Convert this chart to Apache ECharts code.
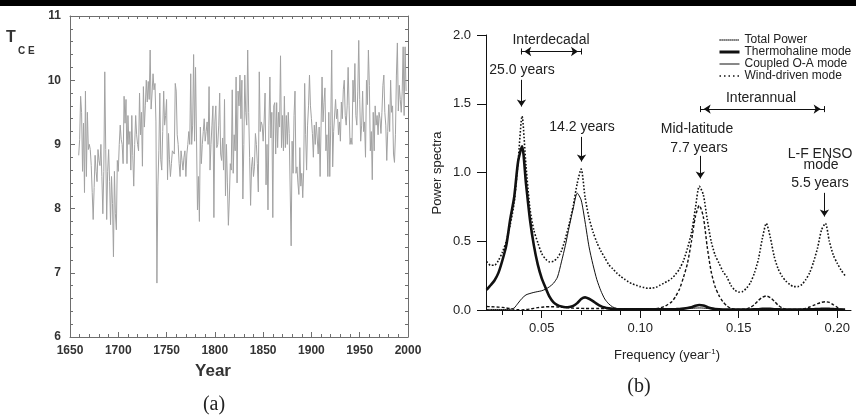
<!DOCTYPE html>
<html><head><meta charset="utf-8">
<script src="https://cdn.jsdelivr.net/npm/echarts@6/dist/echarts.min.js"></script>
<style>html,body{margin:0;padding:0;background:#fff}#c{width:856px;height:419px}</style>
</head><body><div id="c"></div>
<script>
// ---------- Panel (a): Central England temperature, annual means ----------
const tceStartYear = 1659;
const tceValues = [
 8.83,9.08,9.75,9.50,8.58,9.33,8.25,9.83,8.50,9.50,8.92,
 9.00,8.92,8.67,8.25,7.83,8.33,8.83,8.58,8.42,8.92,
 8.75,8.67,9.00,8.50,7.92,8.58,10.13,8.92,7.83,8.58,
 8.92,8.42,7.75,8.50,8.08,7.25,8.58,7.92,7.67,8.75,
 8.58,9.00,9.30,9.08,9.00,8.70,9.75,9.33,9.70,8.70,
 9.45,9.00,9.20,8.60,9.45,8.83,8.35,9.00,9.45,9.15,
 9.00,8.90,9.80,9.15,9.50,8.66,9.90,9.27,9.60,10.00,
 9.66,9.98,9.70,10.47,9.55,9.80,10.10,9.85,9.95,9.35,
 6.84,8.35,8.90,9.80,8.76,8.60,9.20,9.83,9.30,9.45,
 9.70,8.45,9.17,8.76,8.50,8.70,8.90,8.90,8.85,9.95,
 9.83,9.15,9.00,8.70,8.50,8.90,8.75,8.60,8.80,8.90,
 8.50,8.85,9.00,9.20,9.00,10.10,9.00,9.30,10.40,9.05,
 10.20,9.10,7.98,8.50,7.80,9.27,8.70,9.00,9.20,9.40,
 9.05,9.20,9.35,9.00,9.90,8.60,9.00,9.30,9.60,7.86,
 9.35,9.60,8.95,9.00,9.30,9.80,8.85,8.75,9.10,8.60,
 9.70,8.20,9.00,8.40,7.74,8.15,8.70,8.60,9.85,8.55,
 9.15,8.90,10.05,8.40,9.83,9.60,10.08,9.40,10.00,8.15,
 9.00,10.08,9.50,9.30,10.47,9.50,8.80,8.05,8.65,8.80,
 8.50,8.65,9.17,9.00,8.70,8.26,10.13,9.20,9.35,9.30,
 9.05,9.35,9.80,8.37,9.00,7.98,9.30,10.05,9.10,9.50,
 7.86,9.60,9.65,8.85,9.65,8.95,9.50,9.27,10.38,8.95,
 9.45,8.90,9.75,8.95,9.45,9.00,9.50,9.17,9.20,7.42,
 9.05,8.55,9.45,9.83,8.55,8.65,8.40,8.22,8.95,8.35,
 8.55,8.17,8.60,9.95,9.15,8.60,9.30,9.60,10.08,9.60,
 9.40,9.17,8.80,9.30,9.00,9.35,9.10,8.85,9.27,8.50,
 9.30,10.05,9.35,9.65,9.88,8.90,9.15,8.50,9.50,8.50,
 9.30,10.47,8.65,9.20,9.17,9.70,9.40,9.55,9.15,9.35,
 9.05,9.66,9.40,9.85,10.00,9.45,9.30,9.60,10.20,9.60,
 9.00,9.10,9.00,10.00,9.66,10.26,9.45,9.30,9.83,10.62,
 9.70,9.05,9.30,9.83,9.20,9.35,8.80,10.00,9.62,10.47,
 9.92,8.90,9.20,8.45,9.50,8.90,9.60,9.30,9.45,9.15,
 9.50,9.40,9.17,9.50,9.92,10.08,9.50,9.30,8.75,9.20,
 9.62,9.20,10.00,9.50,9.60,8.85,8.72,9.15,10.08,10.58,
 9.52,9.92,9.70,9.50,9.83,10.52,9.45,10.52,9.83
];
const yearTicks = [1650,1700,1750,1800,1850,1900,1950,2000];

// ---------- Panel (b): power spectra ----------
const freq = [
 0.022,0.024,0.026,0.028,0.030,0.032,0.034,0.036,0.038,0.040,
 0.042,0.044,0.046,0.048,0.050,0.052,0.054,0.056,0.058,0.060,
 0.062,0.064,0.066,0.068,0.070,0.072,0.074,0.076,0.078,0.080,
 0.082,0.084,0.086,0.088,0.090,0.092,0.094,0.096,0.098,0.100,
 0.102,0.104,0.106,0.108,0.110,0.112,0.114,0.116,0.118,0.120,
 0.122,0.124,0.126,0.128,0.130,0.132,0.134,0.136,0.138,0.140,
 0.142,0.144,0.146,0.148,0.150,0.152,0.154,0.156,0.158,0.160,
 0.162,0.164,0.166,0.168,0.170,0.172,0.174,0.176,0.178,0.180,
 0.182,0.184,0.186,0.188,0.190,0.192,0.194,0.196,0.198,0.200,
 0.202,0.204
];
const totalPower = [
 0.352,0.325,0.325,0.36,0.42,0.50,0.62,0.78,1.08,1.41,
 1.05,0.74,0.58,0.49,0.41,0.37,0.35,0.355,0.38,0.43,
 0.52,0.63,0.76,0.92,1.025,0.82,0.67,0.57,0.49,0.43,
 0.38,0.33,0.30,0.27,0.245,0.225,0.205,0.19,0.18,0.17,
 0.163,0.158,0.16,0.165,0.18,0.195,0.21,0.23,0.26,0.30,
 0.36,0.45,0.56,0.74,0.90,0.84,0.66,0.50,0.40,0.34,
 0.28,0.24,0.18,0.145,0.13,0.135,0.16,0.20,0.27,0.37,
 0.52,0.63,0.53,0.39,0.30,0.245,0.21,0.185,0.17,0.17,
 0.185,0.22,0.27,0.35,0.45,0.58,0.63,0.50,0.40,0.34,
 0.29,0.25
];
const thermohaline = [
 0.146,0.18,0.215,0.27,0.36,0.47,0.66,0.82,1.08,1.19,
 0.92,0.66,0.47,0.33,0.23,0.16,0.095,0.055,0.035,0.025,
 0.02,0.022,0.03,0.05,0.08,0.092,0.082,0.065,0.045,0.028,
 0.018,0.012,0.008,0.006,0.005,0.005,0.005,0.005,0.005,0.005,
 0.005,0.005,0.005,0.005,0.005,0.005,0.005,0.005,0.006,0.007,
 0.01,0.014,0.02,0.03,0.036,0.032,0.022,0.012,0.007,0.005,
 0.004,0.004,0.004,0.004,0.004,0.004,0.004,0.004,0.005,0.006,
 0.008,0.009,0.008,0.006,0.005,0.004,0.004,0.004,0.004,0.004,
 0.004,0.004,0.005,0.006,0.007,0.008,0.009,0.008,0.007,0.005,
 0.004,0.004
];
const coupledOA = [
 0.004,0.004,0.004,0.004,0.004,0.004,0.005,0.015,0.05,0.085,
 0.11,0.12,0.128,0.134,0.14,0.152,0.17,0.195,0.24,0.35,
 0.47,0.61,0.74,0.85,0.80,0.64,0.46,0.33,0.22,0.14,
 0.08,0.045,0.022,0.012,0.007,0.005,0.004,0.004,0.004,0.004,
 0.004,0.004,0.004,0.004,0.004,0.004,0.004,0.004,0.005,0.006,
 0.008,0.01,0.012,0.014,0.015,0.014,0.011,0.008,0.006,0.005,
 0.004,0.004,0.004,0.004,0.004,0.004,0.004,0.004,0.004,0.004,
 0.004,0.004,0.004,0.004,0.004,0.004,0.004,0.004,0.004,0.004,
 0.004,0.004,0.004,0.004,0.004,0.004,0.004,0.004,0.004,0.004,
 0.004,0.004
];
const windDriven = [
 0.025,0.024,0.023,0.021,0.019,0.015,0.01,0.005,0.002,0.001,
 0.003,0.007,0.012,0.017,0.02,0.023,0.024,0.024,0.022,0.02,
 0.018,0.016,0.014,0.013,0.012,0.011,0.011,0.011,0.011,0.011,
 0.01,0.01,0.01,0.01,0.009,0.009,0.009,0.008,0.008,0.008,
 0.008,0.008,0.009,0.01,0.015,0.024,0.04,0.06,0.10,0.155,
 0.24,0.34,0.50,0.68,0.76,0.68,0.46,0.28,0.17,0.105,
 0.06,0.03,0.012,0.005,0.004,0.005,0.008,0.02,0.04,0.07,
 0.092,0.102,0.09,0.065,0.035,0.016,0.006,0.004,0.004,0.004,
 0.006,0.012,0.022,0.034,0.046,0.056,0.06,0.055,0.038,0.02,
 0.006,0.002
];
const freqLabelTicks = [0.05,0.10,0.15,0.20];
const freqMinorTicks = [0.03,0.04,0.05,0.06,0.07,0.08,0.09,0.10,0.11,0.12,0.13,0.14,0.15,0.16,0.17,0.18,0.19,0.20];
const seriesNames = ['Total Power','Thermohaline mode','Coupled O-A mode','Wind-driven mode'];

const tceData = tceValues.map((v,i)=>[tceStartYear+i, v]);
const pair = arr => arr.map((v,i)=>[freq[i], v]);

const chart = echarts.init(document.getElementById('c'), null, {renderer:'canvas'});
const SANS = '"Liberation Sans", Arial, Helvetica, sans-serif';
const SERIF = '"Liberation Serif", "Times New Roman", serif';
const grayAxis = '#6e6e6e';
const boldLabel = {fontFamily:SANS, fontWeight:'bold', fontSize:12, color:'#333'};
const bLabel = {fontFamily:SANS, fontSize:13, color:'#222'};

function ml(a,b,sym){ return [{coord:a, symbol:sym?sym[0]:'none'},{coord:b, symbol:sym?sym[1]:'none'}]; }

const annot = [
  ml([0.0397,1.674],[0.0397,1.48],['none','arrow']),
  ml([0.0702,1.259],[0.0702,1.08],['none','arrow']),
  ml([0.1305,1.121],[0.1305,0.957],['none','arrow']),
  ml([0.1935,0.852],[0.1935,0.68],['none','arrow']),
  ml([0.0411,1.880],[0.0684,1.880],['arrow','arrow']),
  ml([0.0394,1.858],[0.0394,1.902]),
  ml([0.0394,1.880],[0.0415,1.880]),
  ml([0.0700,1.858],[0.0700,1.902]),
  ml([0.068,1.880],[0.0700,1.880]),
  ml([0.1322,1.461],[0.1916,1.461],['arrow','arrow']),
  ml([0.1305,1.439],[0.1305,1.483]),
  ml([0.1305,1.461],[0.1325,1.461]),
  ml([0.1933,1.439],[0.1933,1.483]),
  ml([0.1913,1.461],[0.1933,1.461])
];

function txt(x,y,t,size,extra){
  return Object.assign({type:'text', x:x, y:y, silent:true,
    style:{text:t, font: size+'px '+SANS, fill:'#222', align:'center', verticalAlign:'middle'}}, extra||{});
}

const option = {
  animation:false,
  backgroundColor:'#fff',
  grid:[
    {left:70, top:16, width:338, height:321},
    {left:486, top:35, width:365, height:275}
  ],
  xAxis:[
    {gridIndex:0, type:'value', min:1650, max:2000, interval:50, position:'bottom',
     axisLine:{lineStyle:{color:grayAxis}}, splitLine:{show:false},
     axisTick:{inside:true, length:5, lineStyle:{color:grayAxis}},
     minorTick:{show:true, splitNumber:5, length:3, lineStyle:{color:grayAxis}},
     axisLabel:Object.assign({margin:8, formatter:v=>yearTicks.includes(v)?String(v):''}, boldLabel)},
    {gridIndex:0, type:'value', min:1650, max:2000, interval:10, position:'top',
     axisLine:{lineStyle:{color:grayAxis}}, splitLine:{show:false},
     axisTick:{inside:true, length:3, lineStyle:{color:grayAxis}}, axisLabel:{show:false}},
    {gridIndex:1, type:'value', min:0.0217, max:0.207, position:'bottom',
     axisLine:{onZero:false, lineStyle:{color:'#111'}}, splitLine:{show:false},
     axisTick:{length:5, customValues:freqMinorTicks, lineStyle:{color:'#111'}},
     axisLabel:Object.assign({margin:12, customValues:freqLabelTicks, formatter:v=>v.toFixed(2)}, bLabel)},
    {gridIndex:1, type:'value', min:0.0217, max:0.207, position:'bottom',
     axisLine:{show:false}, splitLine:{show:false},
     axisTick:{length:8, customValues:freqLabelTicks, lineStyle:{color:'#111'}},
     axisLabel:{show:false}}
  ],
  yAxis:[
    {gridIndex:0, type:'value', min:6, max:11, interval:1, position:'left',
     axisLine:{show:true, lineStyle:{color:grayAxis}}, splitLine:{show:false},
     axisTick:{show:true, inside:true, length:5, lineStyle:{color:grayAxis}},
     minorTick:{show:true, splitNumber:5, length:3, lineStyle:{color:grayAxis}},
     axisLabel:Object.assign({margin:9}, boldLabel)},
    {gridIndex:0, type:'value', min:6, max:11, interval:0.2, position:'right',
     axisLine:{show:true, lineStyle:{color:grayAxis}}, splitLine:{show:false},
     axisTick:{show:true, inside:true, length:3, lineStyle:{color:grayAxis}},
     axisLabel:{show:false}},
    {gridIndex:1, type:'value', min:0, max:2, interval:0.5, position:'left',
     axisLine:{show:true, onZero:false, lineStyle:{color:'#111'}}, splitLine:{show:false},
     axisTick:{show:true, length:9, lineStyle:{color:'#111'}},
     axisLabel:Object.assign({margin:15, formatter:v=>v.toFixed(1)}, bLabel)}
  ],
  legend:{
    left:718, top:34, orient:'vertical', padding:0, itemGap:0, itemWidth:20, itemHeight:10,
    selectedMode:false, itemStyle:{opacity:0},
    textStyle:{fontFamily:SANS, fontSize:12, color:'#222', lineHeight:11.7},
    data:[
      {name:seriesNames[0], itemStyle:{opacity:0}, lineStyle:{type:[1.2,0.8], width:1.6, color:'#111'}},
      {name:seriesNames[1], itemStyle:{opacity:0}, lineStyle:{type:'solid', width:3, color:'#111'}},
      {name:seriesNames[2], itemStyle:{opacity:0}, lineStyle:{type:'solid', width:1, color:'#111'}},
      {name:seriesNames[3], itemStyle:{opacity:0}, lineStyle:{type:[1.5,3], width:1.6, color:'#111'}}
    ]
  },
  series:[
    {type:'line', name:'TCE', xAxisIndex:0, yAxisIndex:0, data:tceData, symbol:'none',
     lineStyle:{color:'#a2a2a2', width:1}, silent:true},
    {type:'line', name:seriesNames[0], xAxisIndex:2, yAxisIndex:2, data:pair(totalPower), symbol:'none',
     smooth:0.25, lineStyle:{color:'#111', width:1.6, type:[1.6,1.8]}, itemStyle:{color:'#111'},
     markLine:{silent:true, animation:false, symbolSize:7, label:{show:false},
       lineStyle:{color:'#111', width:1, type:'solid'}, emphasis:{disabled:true}, data:annot}},
    {type:'line', name:seriesNames[1], xAxisIndex:2, yAxisIndex:2, data:pair(thermohaline), symbol:'none',
     smooth:0.25, lineStyle:{color:'#111', width:2.6}, itemStyle:{color:'#111'}},
    {type:'line', name:seriesNames[2], xAxisIndex:2, yAxisIndex:2, data:pair(coupledOA), symbol:'none',
     smooth:0.25, lineStyle:{color:'#111', width:1}, itemStyle:{color:'#111'}},
    {type:'line', name:seriesNames[3], xAxisIndex:2, yAxisIndex:2, data:pair(windDriven), symbol:'none',
     smooth:0.25, lineStyle:{color:'#111', width:1.4, type:[3,2]}, itemStyle:{color:'#111'}}
  ],
  graphic:[
    {type:'rect', shape:{x:0,y:0,width:856,height:6}, style:{fill:'#000'}, silent:true},
    {type:'text', x:6, y:30, silent:true, style:{text:'T', font:'bold 16px '+SANS, fill:'#333'}},
    {type:'text', x:18, y:46, silent:true, style:{text:'C E', font:'bold 10px '+SANS, fill:'#333'}},
    txt(213,371,'Year',17,{style:{text:'Year', font:'bold 17px '+SANS, fill:'#333', align:'center', verticalAlign:'middle'}}),
    txt(214,405,'(a)',20,{style:{text:'(a)', font:'20px '+SERIF, fill:'#222', align:'center', verticalAlign:'middle'}}),
    txt(639,387,'(b)',20,{style:{text:'(b)', font:'20px '+SERIF, fill:'#222', align:'center', verticalAlign:'middle'}}),
    txt(437,173,'Power spectra',13,{rotation:Math.PI/2}),
    {type:'text', x:667, y:355, silent:true, style:{
      text:'Frequency (year{s|-1})', font:'13px '+SANS, fill:'#222', align:'center', verticalAlign:'middle',
      rich:{s:{fontSize:8, fontFamily:SANS, fill:'#222', padding:[0,0,6,0]}}}},
    txt(551,40,'Interdecadal',14),
    txt(522,70,'25.0 years',14),
    txt(582,127,'14.2 years',14),
    txt(761,98,'Interannual',14),
    txt(697,129,'Mid-latitude',14),
    txt(699,148,'7.7 years',14),
    txt(820,154,'L-F ENSO',14),
    txt(821,165,'mode',14),
    txt(820,183,'5.5 years',14)
  ]
};
chart.setOption(option);
</script>
</body></html>
